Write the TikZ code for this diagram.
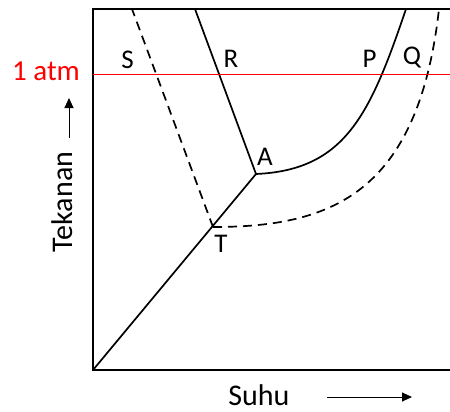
\documentclass[tikz,border=0pt]{standalone}
\usepackage{fontspec}
\setmainfont{Carlito}
\usetikzlibrary{arrows.meta}
\begin{document}
\begin{tikzpicture}[x=1pt,y=-1pt,
  frame/.style={line width=1.8pt,line cap=rect},
  solidcurve/.style={line width=1.7pt},
  dashcurve/.style={line width=1.7pt,dash pattern=on 9pt off 6pt},
  lbl/.style={font=\fontsize{27}{32}\selectfont,inner sep=0pt},
  axlbl/.style={font=\fontsize{30}{36}\selectfont,inner sep=0pt},
  axarrow/.style={line width=0.9pt,-{Triangle[length=10pt,width=9pt]}}]
\useasboundingbox (0,0) rectangle (450,412);
% coordinates
\coordinate (TL) at (93,9);
\coordinate (O) at (93,370);
\coordinate (TR) at (451,9);
\coordinate (BR) at (451,370);
\coordinate (A) at (256,174);
\coordinate (T) at (213,227);
\coordinate (Rtop) at (195,9);
\coordinate (Stop) at (132,9);
\coordinate (Ptop) at (406,9);
\coordinate (Qtop) at (439,9);
\coordinate (atmL) at (93,74);
\coordinate (atmR) at (451,74);
% frame
\draw[frame] (TR) -- (TL) -- (O) -- (BR);
% solid boundaries
\draw[solidcurve] (O) -- (A) -- (Rtop);
\draw[solidcurve] (A) .. controls (345,170) and (370,115) .. (Ptop);
% dashed boundaries
\draw[dashcurve] (T) -- (Stop);
\draw[dashcurve] (T) .. controls (330,227) and (418,195) .. (Qtop);
% 1 atm line
\draw[red,line width=0.8pt] (atmL) -- (atmR);
% labels
\node[lbl] (S) at (127.5,60) {S};
\node[lbl] (R) at (231,59) {R};
\node[lbl] (P) at (369.5,58.5) {P};
\node[lbl] (Q) at (412,58) {Q};
\node[lbl] (Alab) at (265,157) {A};
\node[lbl] (Tlab) at (221,244) {T};
\node[font=\fontsize{29}{35}\selectfont,inner sep=0pt,text=red] (atm) at (46,71) {1 atm};
\node[axlbl,rotate=90] (tek) at (62.5,202) {Tekanan};
\node[axlbl] (suhu) at (259,395) {Suhu};
% axis arrows
\coordinate (tekA) at (69,138);
\coordinate (tekB) at (69,98);
\coordinate (suA) at (327,397);
\coordinate (suB) at (412,397);
\draw[axarrow] (tekA) -- (tekB);
\draw[axarrow] (suA) -- (suB);
\end{tikzpicture}
\end{document}
